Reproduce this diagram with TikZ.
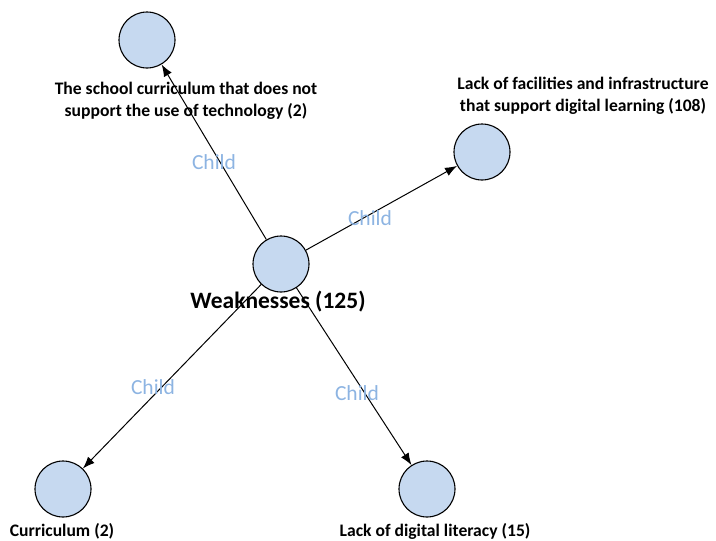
\documentclass[tikz,border=0pt]{standalone}
\usepackage{fontspec}
\setmainfont{Carlito}
\usepackage{tikz}
\usetikzlibrary{arrows.meta}

\definecolor{nodeblue}{RGB}{198,217,240}
\definecolor{childblue}{RGB}{141,180,226}

\tikzset{
  catnode/.style={circle,draw=black,line width=1.1pt,fill=nodeblue,minimum size=56pt,inner sep=0pt},
  catlabel/.style={draw=none,font=\bfseries\fontsize{17.6}{22}\selectfont,align=center,inner sep=0pt},
  childlbl/.style={draw=none,text=childblue,font=\fontsize{21.5}{22}\selectfont,inner sep=0pt},
  link/.style={line width=1pt,-{Latex[length=12pt,width=9pt]}}
}

\begin{document}
\begin{tikzpicture}[x=1pt,y=-1pt]
  \useasboundingbox (0,0) rectangle (716,541);

  % nodes
  \node[catnode] (weak) at (281,264) {};
  \node[catnode] (school) at (147,40) {};
  \node[catnode] (facil) at (482,152) {};
  \node[catnode] (curric) at (63,489) {};
  \node[catnode] (literacy) at (427,489) {};

  % texts
  \node[catlabel,font=\bfseries\fontsize{23.5}{24}\selectfont] (weaktxt) at (278,302) {Weaknesses (125)};
  \node[catlabel] (schooltxt) at (186,101) {The school curriculum that does not\\support the use of technology (2)};
  \node[catlabel] (faciltxt) at (583,96) {Lack of facilities and infrastructure\\that support digital learning (108)};
  \node[catlabel] (curtxt) at (62,531) {Curriculum (2)};
  \node[catlabel] (littxt) at (435,531) {Lack of digital literacy (15)};

  % connectors
  \draw[link] (weak) -- (school);
  \draw[link] (weak) -- (facil);
  \draw[link] (weak) -- (curric);
  \draw[link] (weak) -- (literacy);

  \node[childlbl] (c1) at (214,162) {Child};
  \node[childlbl] (c2) at (370,218) {Child};
  \node[childlbl] (c3) at (153,387) {Child};
  \node[childlbl] (c4) at (357,393) {Child};

\end{tikzpicture}
\end{document}
